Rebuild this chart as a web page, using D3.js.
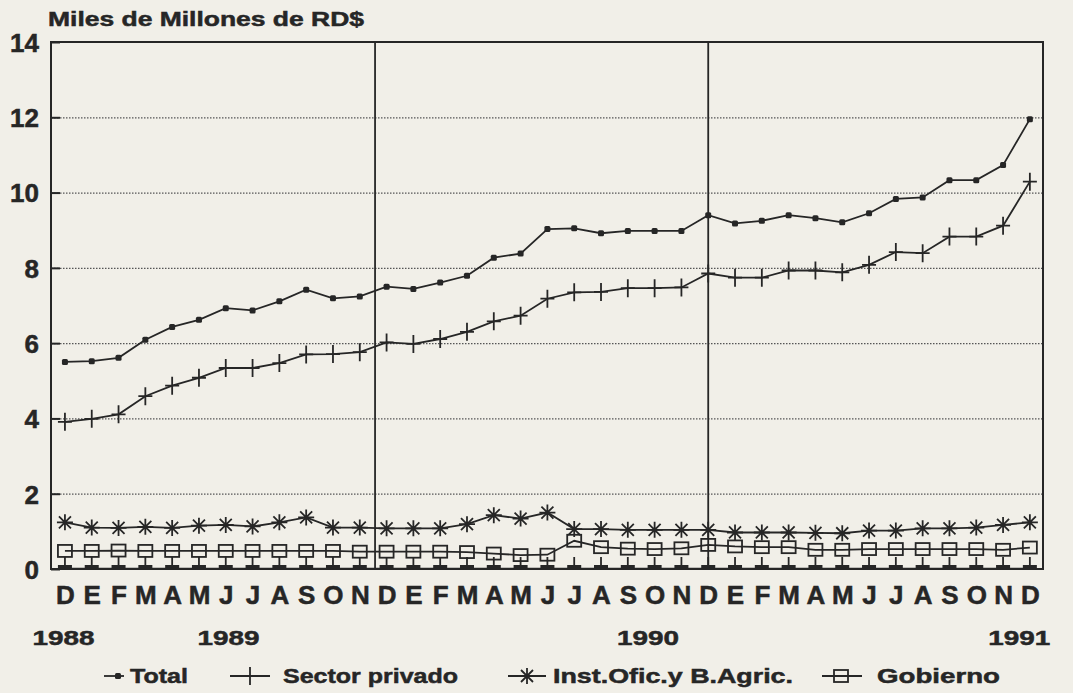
<!DOCTYPE html>
<html>
<head>
<meta charset="utf-8">
<script src="https://cdn.jsdelivr.net/npm/d3@7"></script>
<style>
  html, body { margin: 0; padding: 0; background: #f1efe8; }
  svg { display: block; }
  text { font-family: "Liberation Sans", Arial, sans-serif; font-weight: bold; fill: #262626; stroke: #262626; stroke-width: 0.5px; }
</style>
</head>
<body>
<svg id="chart" width="1073" height="693"></svg>
<script>
// ---------------- DATA ----------------
const months = ["D","E","F","M","A","M","J","J","A","S","O","N","D",
                "E","F","M","A","M","J","J","A","S","O","N","D",
                "E","F","M","A","M","J","J","A","S","O","N","D"];
const yearLabels = ["1988", "1989", "1990", "1991"];
const yearLabelIndex = [-0.05, 6.1, 21.75, 35.6];
const yTicks = [0, 2, 4, 6, 8, 10, 12, 14];
const separators = [11.57, 24];

const total = [5.50,5.52,5.61,6.09,6.43,6.62,6.93,6.87,7.11,7.42,7.19,7.24,7.50,
               7.44,7.61,7.79,8.27,8.38,9.03,9.05,8.92,8.98,8.98,8.98,9.40,
               9.18,9.25,9.40,9.32,9.21,9.45,9.83,9.87,10.33,10.33,10.73,11.95];
const privado = [3.91,3.99,4.11,4.59,4.87,5.08,5.34,5.34,5.47,5.70,5.71,5.76,6.02,
                 5.98,6.11,6.30,6.58,6.73,7.18,7.35,7.36,7.46,7.46,7.48,7.85,
                 7.74,7.74,7.93,7.93,7.88,8.08,8.42,8.39,8.83,8.83,9.12,10.29];
const instOfic = [1.24,1.10,1.09,1.12,1.09,1.15,1.17,1.13,1.24,1.37,1.10,1.10,1.08,
                  1.08,1.08,1.19,1.43,1.34,1.50,1.06,1.06,1.04,1.04,1.04,1.04,
                  0.97,0.97,0.97,0.96,0.95,1.02,1.02,1.08,1.08,1.10,1.17,1.24];
const gobierno = [0.48,0.48,0.49,0.48,0.48,0.48,0.48,0.48,0.48,0.48,0.48,0.46,0.46,
                  0.46,0.46,0.45,0.41,0.37,0.38,0.75,0.58,0.54,0.53,0.55,0.64,
                  0.60,0.58,0.58,0.51,0.51,0.53,0.53,0.53,0.53,0.53,0.51,0.57];
const otros = [0,0,0,0,0,0,0,0,0,0,0,0,0,
               0,0,0,0,0,0,0,0,0,0,0,0,
               0,0,0,0,0,0,0,0,0,0,0,0];

const seriesNames = ["Total", "Sector privado", "Inst.Ofic.y B.Agric.", "Gobierno"];
const title = "Miles de Millones de RD$";

// ---------------- LAYOUT ----------------
const ink = "#262626";
const L = 51, R = 1043, T = 42, B = 569;
const x = d3.scaleLinear().domain([-0.52, 36.49]).range([L, R]);
const y = d3.scaleLinear().domain([0, 14]).range([B, T]);

const svg = d3.select("#chart");

svg.append("defs").append("clipPath").attr("id", "plotclip")
  .append("rect").attr("x", L).attr("y", T).attr("width", R - L).attr("height", B - T);

// title
svg.append("text").attr("x", 48).attr("y", 26)
  .attr("font-size", 21).attr("textLength", 316).attr("lengthAdjust", "spacingAndGlyphs")
  .text(title);

// gridlines (dotted)
svg.append("g").attr("transform", `translate(${L},0)`)
  .call(d3.axisLeft(y).tickValues(yTicks.filter(v => v > 0 && v < 14)).tickSize(-(R - L)).tickFormat(""))
  .call(g => g.select(".domain").remove())
  .call(g => g.selectAll("line").attr("stroke", "#555").attr("stroke-width", 1.2).attr("stroke-dasharray", "1.5,1.5"));

// y axis: labels + inward ticks
svg.append("g").attr("transform", `translate(${L},0)`)
  .call(d3.axisLeft(y).tickValues(yTicks).tickSize(-9).tickPadding(12))
  .call(g => g.select(".domain").remove())
  .call(g => g.selectAll("line").attr("stroke", ink).attr("stroke-width", 2))
  .call(g => g.selectAll("text").attr("font-size", 26).attr("font-family", "'Liberation Sans', Arial, sans-serif")
        .attr("font-weight", "bold").attr("fill", ink).attr("dy", "0.36em"));

// separators
svg.append("g").selectAll("line").data(separators).join("line")
  .attr("x1", d => x(d)).attr("x2", d => x(d)).attr("y1", T).attr("y2", B)
  .attr("stroke", ink).attr("stroke-width", 1.8);

// x axis labels
svg.append("g").attr("transform", `translate(0,${B})`)
  .call(d3.axisBottom(x).tickValues(d3.range(months.length)).tickFormat(i => months[i]).tickSize(0).tickPadding(17))
  .call(g => g.select(".domain").remove())
  .call(g => g.selectAll("text").attr("font-size", 26).attr("font-family", "'Liberation Sans', Arial, sans-serif")
        .attr("font-weight", "bold").attr("fill", ink));

// year labels
svg.append("g").selectAll("text").data(yearLabels).join("text")
  .attr("x", (d, i) => x(yearLabelIndex[i])).attr("y", 645).attr("text-anchor", "middle")
  .attr("font-size", 21).attr("textLength", 62).attr("lengthAdjust", "spacingAndGlyphs")
  .text(d => d);

// ---------------- MARKERS ----------------
function drawMarker(g, type, cx, cy) {
  if (type === "dot") {
    g.append("rect").attr("x", cx - 3).attr("y", cy - 3).attr("width", 6).attr("height", 6)
      .attr("rx", 1.5).attr("fill", ink);
  } else if (type === "plus") {
    g.append("path").attr("d", `M${cx - 7},${cy}H${cx + 7}M${cx},${cy - 9}V${cy + 9}`)
      .attr("stroke", ink).attr("stroke-width", 1.8).attr("fill", "none");
  } else if (type === "star") {
    const r = 8, d = 6;
    g.append("path").attr("d",
      `M${cx - r},${cy}H${cx + r}M${cx},${cy - r}V${cy + r}M${cx - d},${cy - d}L${cx + d},${cy + d}M${cx - d},${cy + d}L${cx + d},${cy - d}`)
      .attr("stroke", ink).attr("stroke-width", 1.8).attr("fill", "none");
  } else if (type === "square") {
    g.append("rect").attr("x", cx - 7).attr("y", cy - 6).attr("width", 14).attr("height", 12)
      .attr("stroke", ink).attr("stroke-width", 1.8).attr("fill", "none");
  } else if (type === "stem") {
    g.append("path").attr("d", `M${cx},${cy - 12}V${cy}`)
      .attr("stroke", ink).attr("stroke-width", 1.8).attr("fill", "none");
    g.append("rect").attr("x", cx - 7).attr("y", cy - 4).attr("width", 14).attr("height", 4)
      .attr("fill", ink);
  }
}

const series = [
  { values: otros, marker: "stem" },
  { values: gobierno, marker: "square" },
  { values: instOfic, marker: "star" },
  { values: privado, marker: "plus" },
  { values: total, marker: "dot" }
];

const plot = svg.append("g").attr("clip-path", "url(#plotclip)");
const line = d3.line().x((d, i) => x(i)).y(d => y(d));

series.forEach(s => {
  const g = plot.append("g");
  g.append("path").datum(s.values).attr("d", line)
    .attr("fill", "none").attr("stroke", ink).attr("stroke-width", s.marker === "stem" ? 2.4 : 1.8);
  s.values.forEach((v, i) => drawMarker(g, s.marker, x(i), y(v)));
});

// frame
svg.append("rect").attr("x", L).attr("y", T).attr("width", R - L).attr("height", B - T)
  .attr("fill", "none").attr("stroke", ink).attr("stroke-width", 2);

// ---------------- LEGEND ----------------
const legendY = 676;
const legendItems = [
  { name: seriesNames[0], marker: "dot", x1: 104, x2: 124, mx: 118, tx: 130, tw: 58 },
  { name: seriesNames[1], marker: "plus", x1: 230, x2: 270, mx: 250, tx: 283, tw: 175 },
  { name: seriesNames[2], marker: "star", x1: 508, x2: 546, mx: 527, tx: 553, tw: 240 },
  { name: seriesNames[3], marker: "square", x1: 822, x2: 862, mx: 841, tx: 877, tw: 123 }
];
const lg = svg.append("g");
legendItems.forEach(it => {
  lg.append("line").attr("x1", it.x1).attr("x2", it.x2).attr("y1", legendY).attr("y2", legendY)
    .attr("stroke", ink).attr("stroke-width", 1.8);
  drawMarker(lg, it.marker, it.mx, legendY);
  lg.append("text").attr("x", it.tx).attr("y", legendY + 7).attr("font-size", 21)
    .attr("textLength", it.tw).attr("lengthAdjust", "spacingAndGlyphs").text(it.name);
});
</script>
</body>
</html>
